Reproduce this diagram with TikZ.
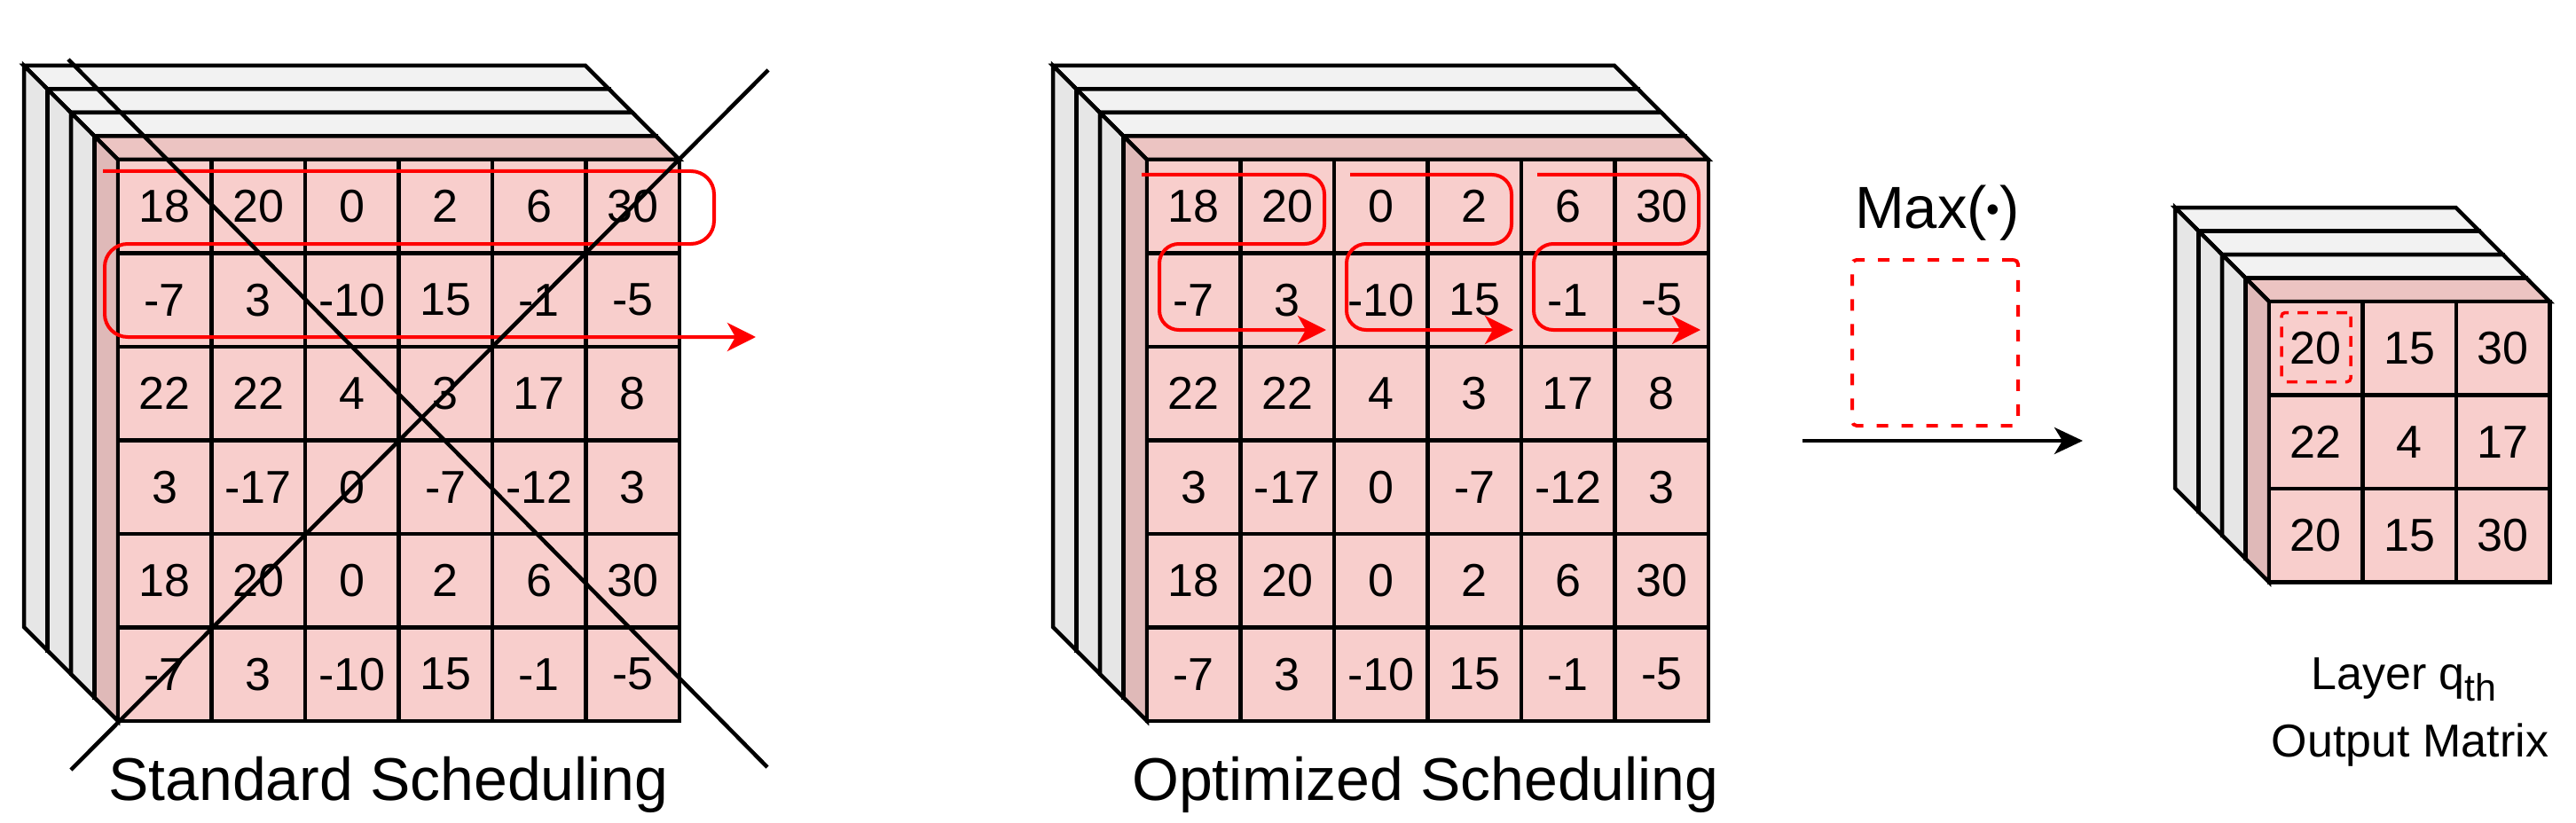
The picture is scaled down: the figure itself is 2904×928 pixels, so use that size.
\documentclass[tikz,border=0pt]{standalone}
\usepackage{fontspec}
\setmainfont{Liberation Sans}
\usetikzlibrary{arrows.meta}
\definecolor{gtop}{HTML}{F2F2F2}
\definecolor{gside}{HTML}{E6E6E6}
\definecolor{ptop}{HTML}{ECC4C2}
\definecolor{pside}{HTML}{DFB9B8}
\definecolor{pfront}{HTML}{F8CECC}
\definecolor{rline}{HTML}{FF0000}
% #1 fx, #2 fy, #3 size, #4 depth, #5 top, #6 side, #7 front
\newcommand\cubelayer[7]{%
  \filldraw[fill=#5] ({#1-#4},{#2-#4}) -- ({#1+#3-#4},{#2-#4}) -- ({#1+#3},{#2}) -- ({#1},{#2}) -- cycle;
  \filldraw[fill=#6] ({#1-#4},{#2-#4}) -- ({#1},{#2}) -- ({#1},{#2+#3}) -- ({#1-#4},{#2+#3-#4}) -- cycle;
  \filldraw[fill=#7] ({#1},{#2}) rectangle ({#1+#3},{#2+#3});
}
\newcommand\cubestack[4]{%
  \foreach \k in {3,2,1} {%
    \pgfmathsetmacro\ax{#1-\k*#4}\pgfmathsetmacro\ay{#2-\k*#4}%
    \cubelayer{\ax}{\ay}{#3}{#4}{gtop}{gside}{white}}%
  \cubelayer{#1}{#2}{#3}{#4}{ptop}{pside}{pfront}%
}
\tikzset{
  cell/.style={draw, line width=4.5pt, fill=pfront, minimum size=105.5pt, inner sep=0pt,
    font=\fontsize{52}{60}\selectfont},
  redpath/.style={draw=rline, line width=4pt, rounded corners=26pt,
    -{Stealth[length=32pt,width=32pt,inset=9pt]}},
  blackarrow/.style={draw=black, line width=4pt, -{Stealth[length=32pt,width=30pt,inset=9pt]}},
  label/.style={inner sep=0pt},
}
\begin{document}
\begin{tikzpicture}[x=1pt,y=-1pt,line width=4.5pt]
\useasboundingbox (0,0) rectangle (2904,928);

% ---------- Cube 1: Standard ----------
\cubestack{133}{180}{633}{26.5}
\foreach \row [count=\r] in {{18,20,0,2,6,30},{-7,3,-10,15,-1,-5},{22,22,4,3,17,8},{3,-17,0,-7,-12,3},{18,20,0,2,6,30},{-7,3,-10,15,-1,-5}} {
  \foreach \v [count=\c] in \row {
    \node[cell] (a-\r-\c) at ({133+(\c-0.5)*105.5},{180+(\r-0.5)*105.5}) {\v};
  }
}
\coordinate (a-start) at (116,193);
\coordinate (a-end) at (852,380);
\draw[redpath] (a-start) -- (805,193) -- (805,275) -- (118,275) -- (118,380) -- (a-end);
\coordinate (x1a) at (77,67);
\coordinate (x1b) at (865,865);
\coordinate (x2a) at (80,868);
\coordinate (x2b) at (866,79);
\draw[line width=4.5pt] (x1a) -- (x1b);
\draw[line width=4.5pt] (x2a) -- (x2b);
\node[label, anchor=base west, font=\fontsize{68}{80}\selectfont] (stdlbl) at (120,902) {Standard Scheduling};

% ---------- Cube 2: Optimized ----------
\cubestack{1293}{180}{633}{26.5}
\foreach \row [count=\r] in {{18,20,0,2,6,30},{-7,3,-10,15,-1,-5},{22,22,4,3,17,8},{3,-17,0,-7,-12,3},{18,20,0,2,6,30},{-7,3,-10,15,-1,-5}} {
  \foreach \v [count=\c] in \row {
    \node[cell] (b-\r-\c) at ({1293+(\c-0.5)*105.5},{180+(\r-0.5)*105.5}) {\v};
  }
}
\foreach \k in {0,1,2} {
  \pgfmathsetmacro\cx{1293+211*\k}
  \pgfmathsetmacro\sx{\k==0 ? -6 : 18}
  \coordinate (b-start-\k) at ({\cx+\sx},197);
  \coordinate (b-end-\k) at ({\cx+202},372);
  \draw[redpath, rounded corners=22pt] (b-start-\k) -- ({\cx+200},197) -- ({\cx+200},275) -- ({\cx+14},275) -- ({\cx+14},372) -- (b-end-\k);
}
\node[label, anchor=base west, font=\fontsize{68}{80}\selectfont] (optlbl) at (1274,902) {Optimized Scheduling};

% ---------- Max operation ----------
\node[label, anchor=base, font=\fontsize{67}{80}\selectfont] (maxlbl) at (2184,258) {Max(\raisebox{7pt}{\fontsize{42}{42}\selectfont •})};
\node[draw=rline, line width=4pt, dash pattern=on 13pt off 15pt, rounded corners=5pt,
  minimum size=187pt, inner sep=0pt] (maxbox) at (2181.5,386.5) {};
\coordinate (arrA) at (2032,497);
\coordinate (arrB) at (2348,497);
\draw[blackarrow] (arrA) -- (arrB);

% ---------- Cube 3: Output ----------
\cubestack{2558}{340}{316.5}{26.5}
\foreach \row [count=\r] in {{20,15,30},{22,4,17},{20,15,30}} {
  \foreach \v [count=\c] in \row {
    \node[cell] (c-\r-\c) at ({2558+(\c-0.5)*105.5},{340+(\r-0.5)*105.5}) {\v};
  }
}
\node[draw=rline, line width=3.5pt, dash pattern=on 12pt off 10pt, rounded corners=4pt,
  minimum size=78pt, inner sep=0pt] (selbox) at (2611,391.5) {};
\node[label, anchor=base, font=\fontsize{52}{60}\selectfont] (laylbl) at (2710,777)
  {Layer q\raisebox{-13pt}{\fontsize{43}{50}\selectfont th}};
\node[label, anchor=base, font=\fontsize{52}{60}\selectfont] (outlbl) at (2717,853) {Output Matrix};
\end{tikzpicture}
\end{document}
